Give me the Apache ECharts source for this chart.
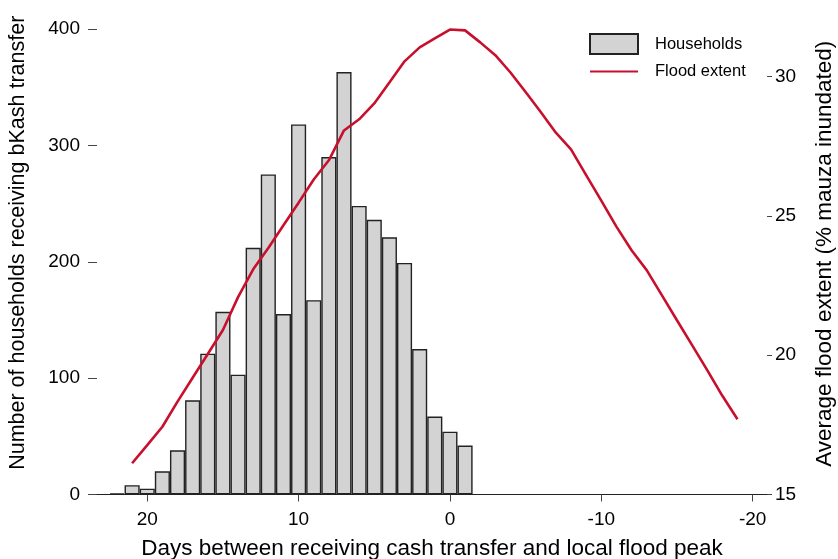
<!DOCTYPE html>
<html>
<head>
<meta charset="utf-8">
<script src="https://cdn.jsdelivr.net/npm/echarts@6/dist/echarts.min.js"></script>
<style>
  html, body { margin: 0; padding: 0; background: #fff; }
  #chart { width: 838px; height: 559px; }
</style>
</head>
<body>
<div id="chart"></div>
<script>
// histogram: days before flood peak -> households
var barDays = [22, 21, 20, 19, 18, 17, 16, 15, 14, 13, 12, 11, 10, 9, 8, 7, 6, 5, 4, 3, 2, 1, 0, -1];
var households = [1, 8, 5, 20, 38, 81, 121, 157, 103, 212, 275, 155, 318, 167, 290, 363, 248, 236, 221, 199, 125, 67, 54, 42];

// flood extent line (% mauza inundated)
var lineDays = [21, 20, 19, 18, 17, 16, 15, 14, 13, 12, 11, 10, 9, 8, 7, 6, 5, 4, 3, 2, 1, 0,
  -1, -2, -3, -4, -5, -6, -7, -8, -9, -10, -11, -12, -13, -14, -15, -16, -17, -18, -19];
var floodExtent = [16.12, 16.77, 17.43, 18.33, 19.19, 20.04, 20.90, 22.08, 23.08, 23.84, 24.66, 25.47,
  26.30, 26.99, 28.06, 28.46, 29.03, 29.78, 30.54, 31.04, 31.36, 31.68,
  31.65, 31.22, 30.76, 30.14, 29.44, 28.72, 27.98, 27.38, 26.46, 25.54, 24.61, 23.76, 23.05,
  22.15, 21.25, 20.36, 19.46, 18.54, 17.70];

var xTicks = [20, 10, 0, -10, -20];
var leftTicks = [0, 100, 200, 300, 400];
var rightTicks = [15, 20, 25, 30];

var chart = echarts.init(document.getElementById('chart'));

var font = 'Liberation Sans, Arial, Helvetica, sans-serif';

var option = {
  backgroundColor: '#fff',
  animation: false,
  textStyle: { fontFamily: font, color: '#000' },
  grid: { left: 97, right: 71, top: 29, bottom: 64.5, outerBoundsMode: 'none', containLabel: false },
  legend: {
    orient: 'vertical',
    left: 584,
    top: 28,
    itemWidth: 48,
    itemHeight: 20,
    itemGap: 8,
    textStyle: { fontFamily: font, fontSize: 16.5, color: '#000', padding: [0, 0, 0, 12] },
    data: [
      { name: 'Households', icon: 'rect' },
      { name: 'Flood extent', itemStyle: { opacity: 0 } }
    ]
  },
  xAxis: {
    type: 'value',
    inverse: true,
    min: -20.95,
    max: 23.32,
    name: 'Days between receiving cash transfer and local flood peak',
    nameLocation: 'middle',
    nameGap: 43,
    nameTextStyle: { fontSize: 22.5, color: '#000' },
    axisLine: { show: true, onZero: false, lineStyle: { color: '#222', width: 1 } },
    axisTick: { show: true, length: 7, customValues: xTicks, lineStyle: { color: '#444' } },
    axisLabel: { customValues: xTicks, fontSize: 19, color: '#000', margin: 16 },
    splitLine: { show: false }
  },
  yAxis: [
    {
      type: 'value',
      position: 'left',
      min: 0,
      max: 400,
      interval: 100,
      name: 'Number of households receiving bKash transfer',
      nameLocation: 'middle',
      nameGap: 68,
      nameTextStyle: { fontSize: 21.5, color: '#000', padding: [0, 0, 0, 38] },
      axisLine: { show: false, onZero: false },
      axisTick: { show: true, length: 9, customValues: leftTicks, lineStyle: { color: '#444' } },
      axisLabel: { customValues: leftTicks, fontSize: 19, color: '#000', margin: 17 },
      splitLine: { show: false }
    },
    {
      type: 'value',
      position: 'right',
      min: 15,
      max: 31.7,
      name: 'Average flood extent (% mauza inundated)',
      nameLocation: 'middle',
      nameGap: 46,
      nameRotate: 90,
      nameTextStyle: { fontSize: 22.5, color: '#000', padding: [0, 0, 0, 16] },
      axisLine: { show: false, onZero: false },
      axisTick: { show: true, length: 5, customValues: rightTicks, lineStyle: { color: '#444' } },
      axisLabel: { customValues: rightTicks, fontSize: 19, color: '#000', margin: 8 },
      splitLine: { show: false }
    }
  ],
  series: [
    {
      name: 'Households',
      type: 'bar',
      yAxisIndex: 0,
      barWidth: 15.1,
      itemStyle: { color: '#d3d3d3', borderColor: '#222', borderWidth: 1.4 },
      data: barDays.map(function (d, i) { return [d, households[i]]; })
    },
    {
      name: 'Flood extent',
      type: 'line',
      yAxisIndex: 1,
      symbol: 'none',
      showSymbol: false,
      lineStyle: { color: '#c8102e', width: 2.6 },
      itemStyle: { color: '#c8102e' },
      data: lineDays.map(function (d, i) { return [d, floodExtent[i]]; })
    }
  ]
};

chart.setOption(option);
</script>
</body>
</html>
